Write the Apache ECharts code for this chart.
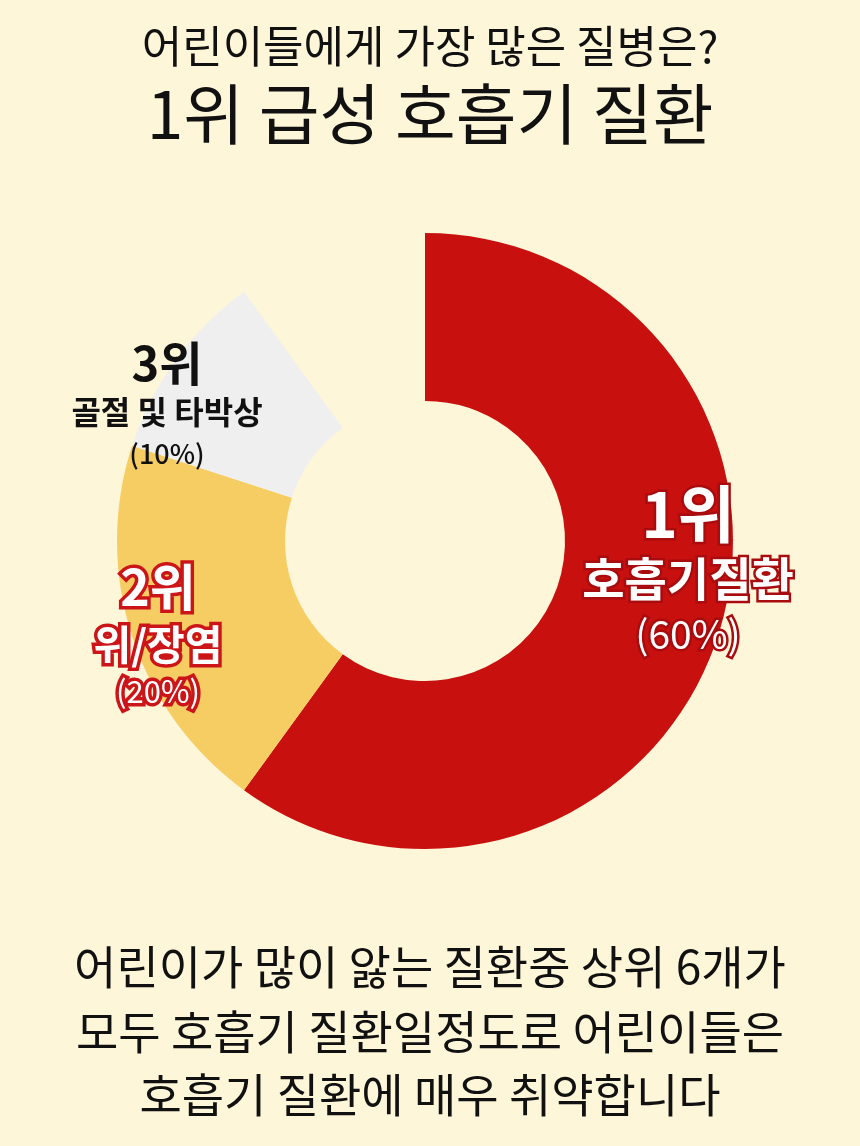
<!DOCTYPE html>
<html>
<head>
<meta charset="utf-8">
<script src="https://cdn.jsdelivr.net/npm/echarts@6/dist/echarts.min.js"></script>
<style>
  html, body { margin: 0; padding: 0; background: #fef6d8; }
  #chart { width: 860px; height: 1146px; }
</style>
</head>
<body>
<div id="chart"></div>
<script>
// 순위, 질병명, 비율
var ranks = ['1위', '2위', '3위'];
var names = ['호흡기질환', '위/장염', '골절 및 타박상'];
var values = [60, 20, 10];
var restValue = 10; // 빈 영역
var colors = ['#c8100f', '#f5cd62', '#efefef'];

var titleLines = ['어린이들에게 가장 많은 질병은?', '1위 급성 호흡기 질환'];
var footLines = [
  '어린이가 많이 앓는 질환중 상위 6개가',
  '모두 호흡기 질환일정도로 어린이들은',
  '호흡기 질환에 매우 취약합니다'
];

var FONT = '"Noto Sans CJK KR", "Noto Sans", sans-serif';

var myChart = echarts.init(document.getElementById('chart'));

// 라벨 스타일 (순위별)
var labelRich = [
  {
    a: { fontSize: 62, fontWeight: 'bold', color: '#fff', lineHeight: 72, textBorderColor: '#a80c0e', textBorderWidth: 5, fontFamily: FONT },
    b: { fontSize: 46, fontWeight: 'bold', color: '#fff', lineHeight: 58, textBorderColor: '#a80c0e', textBorderWidth: 5, fontFamily: FONT },
    c: { fontSize: 39, fontWeight: 'normal', color: '#fff', lineHeight: 52, textBorderColor: '#a80c0e', textBorderWidth: 5, fontFamily: FONT }
  },
  {
    a: { fontSize: 50, fontWeight: 'bold', color: '#fff', lineHeight: 62, textBorderColor: '#cc1519', textBorderWidth: 7, fontFamily: FONT },
    b: { fontSize: 41, fontWeight: 'bold', color: '#fff', lineHeight: 52, textBorderColor: '#cc1519', textBorderWidth: 7, fontFamily: FONT },
    c: { fontSize: 31, fontWeight: 'normal', color: '#fff', lineHeight: 42, textBorderColor: '#cc1519', textBorderWidth: 7, fontFamily: FONT }
  },
  {
    a: { fontSize: 47, fontWeight: 'bold', color: '#111', lineHeight: 52, fontFamily: FONT },
    b: { fontSize: 32, fontWeight: 'bold', color: '#111', lineHeight: 46, fontFamily: FONT },
    c: { fontSize: 27, fontWeight: 500, color: '#111', lineHeight: 38, fontFamily: FONT }
  }
];
// 라벨 위치
var labelPos = [[688, 569], [158, 634], [167, 405]];

var pieData = values.map(function (v, i) {
  return {
    value: v,
    name: names[i],
    itemStyle: { color: colors[i] },
    label: {
      show: true,
      formatter: '{a|' + ranks[i] + '}\n{b|' + names[i] + '}\n{c|(' + v + '%)}',
      rich: labelRich[i]
    }
  };
});
pieData.push({
  value: restValue,
  name: '',
  itemStyle: { color: 'rgba(0,0,0,0)' },
  label: { show: false }
});

var titles = [
  { text: titleLines[0], left: 'center', top: 19, textStyle: { fontSize: 44, fontWeight: 'normal', color: '#111', fontFamily: FONT } },
  { text: titleLines[1], left: 'center', top: 76, textStyle: { fontSize: 66, fontWeight: 'normal', color: '#111', fontFamily: FONT } },
  { text: footLines[0], left: 'center', top: 939, textStyle: { fontSize: 46, fontWeight: 'normal', color: '#111', fontFamily: FONT } },
  { text: footLines[1], left: 'center', top: 1004, textStyle: { fontSize: 46, fontWeight: 'normal', color: '#111', fontFamily: FONT } },
  { text: footLines[2], left: 'center', top: 1067, textStyle: { fontSize: 46, fontWeight: 'normal', color: '#111', fontFamily: FONT } }
];

var option = {
  backgroundColor: '#fef6d8',
  animation: false,
  title: titles,
  series: [
    {
      type: 'pie',
      center: [425, 541],
      radius: [140, 308],
      startAngle: 90,
      clockwise: true,
      silent: true,
      label: { position: 'inside', fontFamily: FONT },
      labelLine: { show: false },
      labelLayout: function (params) {
        var p = labelPos[params.dataIndex];
        if (!p) return {};
        return { x: p[0], y: p[1], align: 'center', verticalAlign: 'middle' };
      },
      data: pieData
    }
  ]
};

myChart.setOption(option);
</script>
</body>
</html>
